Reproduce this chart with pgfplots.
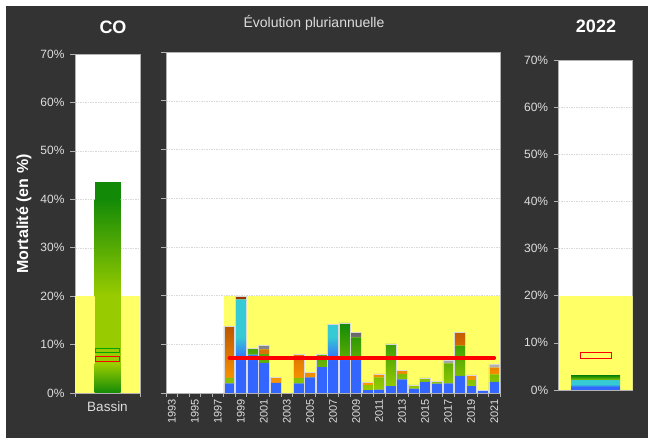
\documentclass[border=0pt]{standalone}
\usepackage{fontspec}
\setmainfont{Liberation Sans}
\usepackage{pgfplots}
\usepackage{pgfplotstable}
\pgfplotsset{compat=1.18}

\definecolor{bgdark}{HTML}{333333}
\definecolor{band}{HTML}{FFFF66}
\definecolor{tickgray}{HTML}{DDDDDD}
\definecolor{cBlue}{HTML}{3366FF}
\definecolor{cCyan}{HTML}{36CAD4}
\definecolor{cLime}{HTML}{99CC00}
\definecolor{cGreen}{HTML}{138A07}
\definecolor{cOrange}{HTML}{FF9900}
\definecolor{cBrown}{HTML}{993300}
\definecolor{cLgray}{HTML}{B4B4B4}
\definecolor{cDgray}{HTML}{666666}

% blue at the foot, cyan above (path spans 25bp..75bp)
\pgfdeclareverticalshading{bluecyan}{100bp}{color(0bp)=(cBlue); color(25bp)=(cBlue);
  color(42bp)=(cBlue); color(55bp)=(cCyan); color(75bp)=(cCyan); color(100bp)=(cCyan)}

% mortality per year, split by layer (in %)
\pgfplotstableread{
year blue green orange gray
1998 2.0  1.1  10.6 0
1999 19.2 0    0.7  0
2000 7.9  1.25 0    0
2001 6.2  1.8  0.95 0.85
2002 2.1  0    1.1  0
2003 0    0    0    0
2004 2.0  1.1  4.7  0.2
2005 3.2  0    1.0  0
2006 5.3  2.5  0    0.2
2007 14.1 0    0    0
2008 6.9  7.5  0    0
2009 6.8  4.6  0    1.0
2010 0.6  1.0  0.65 0
2011 0.7  2.5  0.7  0
2012 1.4  8.7  0    0
2013 2.8  1.1  0.7  0
2014 0.9  0.75 0    0
2015 2.3  0.8  0    0
2016 1.9  0.55 0    0
2017 2.0  4.1  0    0.7
2018 3.5  6.2  2.7  0
2019 1.4  1.3  1.0  0
2020 0.6  0    0    0
2021 2.3  1.5  1.4  0.7
}\yearly

\pgfplotsset{
  posCO/.style={at={(75pt,45pt)}, anchor=south west, scale only axis,
    width=65pt, height=339pt, xmin=-0.5, xmax=0.5, ymin=0, ymax=70},
  posMid/.style={at={(166pt,45pt)}, anchor=south west, scale only axis,
    width=334pt, height=341pt, xmin=1992.5, xmax=2021.5, ymin=0, ymax=70},
  posYr/.style={at={(558.7pt,48pt)}, anchor=south west, scale only axis,
    width=74pt, height=330pt, xmin=-0.5, xmax=0.5, ymin=0, ymax=70},
  frame/.style={
    axis background/.style={fill=white},
    axis line style={draw=gray!60, line width=0.6pt},
    tick pos=left, tick align=outside,
    major tick length=5pt, minor tick length=4pt,
    tick style={draw=gray!60, line width=0.6pt},
    ytick={0,10,...,70},
    ymajorgrids,
    major grid style={draw=gray!30, line width=0.4pt, dash pattern=on 1.5pt off 1pt},
    /pgf/number format/assume math mode=true,
    yticklabel={\pgfmathprintnumber{\tick}\%},
    tick label style={text=tickgray, font=\fontsize{12}{14}\selectfont},
    yticklabel style={xshift=-2pt},
  },
}

\begin{document}
\begin{tikzpicture}
\fill[white] (0,0) rectangle (648pt,438pt);
\fill[bgdark] (6pt,0) rectangle (648pt,432pt);

% ---- CO (bassin) ----
\begin{axis}[posCO, frame, xtick={0}, xticklabels={Bassin},
  major x tick style={draw=none}, minor xtick={-0.5,0.5},
  xticklabel style={font=\fontsize{13.5}{16}\selectfont}]
\addplot[fill=band, draw=none] coordinates {(-0.5,20) (0.5,20)} \closedcycle;
\end{axis}
\begin{axis}[posCO, hide axis, ybar stacked, bar width=26pt]
\addplot[draw=none, bottom color=cGreen, top color=cLime] coordinates {(0,6)};
\addplot[draw=none, fill=cLime] coordinates {(0,14)};
\addplot[draw=none, bottom color=cLime, top color=cGreen] coordinates {(0,20)};
\addplot[draw=none, fill=cGreen] coordinates {(0,3.6)};
\end{axis}
\begin{axis}[posCO, hide axis]
\addplot[draw=green!65!black, line width=1pt] coordinates {(-0.177,8.3) (0.177,8.3) (0.177,9.2) (-0.177,9.2) (-0.177,8.3)};
\addplot[draw=red, line width=1pt] coordinates {(-0.177,6.5) (0.177,6.5) (0.177,7.6) (-0.177,7.6) (-0.177,6.5)};
\end{axis}

% ---- multi-year ----
\begin{axis}[posMid, frame, yticklabels={},
  xtick={1993,1995,...,2021}, major x tick style={draw=none},
  minor xtick={1992.5,1993.5,...,2021.5},
  scaled x ticks=false, /pgf/number format/1000 sep={},
  xticklabel style={rotate=90, anchor=east, inner sep=1pt, font=\fontsize{11}{13}\selectfont}]
\addplot[fill=band, draw=none] coordinates {(1997.5,20) (2021.5,20)} \closedcycle;
\end{axis}
\begin{axis}[posMid, hide axis, ybar stacked, bar width=10.8pt]
\addplot[draw=none, shade, shading=bluecyan] table[x=year, y=blue] {\yearly};
\addplot[draw=none, bottom color=cLime, top color=cGreen] table[x=year, y=green] {\yearly};
\addplot[draw=none, bottom color=cOrange, top color=cBrown] table[x=year, y=orange] {\yearly};
\addplot[draw=none, bottom color=cLgray, top color=cDgray] table[x=year, y=gray] {\yearly};
\end{axis}
\begin{axis}[posMid, hide axis]
\addplot[ybar, bar width=10.8pt, bar shift=0pt, draw=white!70!gray, line width=0.5pt, fill=none,
  restrict y to domain=0.01:100]
  table[x=year, y expr=\thisrow{blue}+\thisrow{green}+\thisrow{orange}+\thisrow{gray}] {\yearly};
\addplot[red, line width=3.6pt, line cap=round] coordinates {(1998,7.2) (2021,7.2)};
\end{axis}

% ---- 2022 ----
\begin{axis}[posYr, frame, xtick=\empty]
\addplot[fill=band, draw=none] coordinates {(-0.5,20) (0.5,20)} \closedcycle;
\end{axis}
\begin{axis}[posYr, hide axis, ybar stacked, bar width=49pt]
\addplot[draw=none, shade, shading=bluecyan] coordinates {(0,2.0)};
\addplot[draw=none, bottom color=cLime, top color=cGreen] coordinates {(0,1.0)};
\end{axis}
\begin{axis}[posYr, hide axis]
\addplot[draw=red, line width=1pt] coordinates {(-0.21,6.6) (0.21,6.6) (0.21,7.85) (-0.21,7.85) (-0.21,6.6)};
\end{axis}

% titles
\node[white, font=\bfseries\fontsize{18}{20}\selectfont, anchor=base] at (113pt,404pt) {CO};
\node[white, font=\bfseries\fontsize{18}{20}\selectfont, anchor=base] at (596pt,405pt) {2022};
\node[tickgray, font=\fontsize{14}{16}\selectfont, anchor=base] at (314pt,410pt) {Évolution pluriannuelle};
\node[white, rotate=90, font=\bfseries\fontsize{16}{18}\selectfont] at (24pt,224pt) {Mortalité (en \%)};
\end{tikzpicture}
\end{document}
